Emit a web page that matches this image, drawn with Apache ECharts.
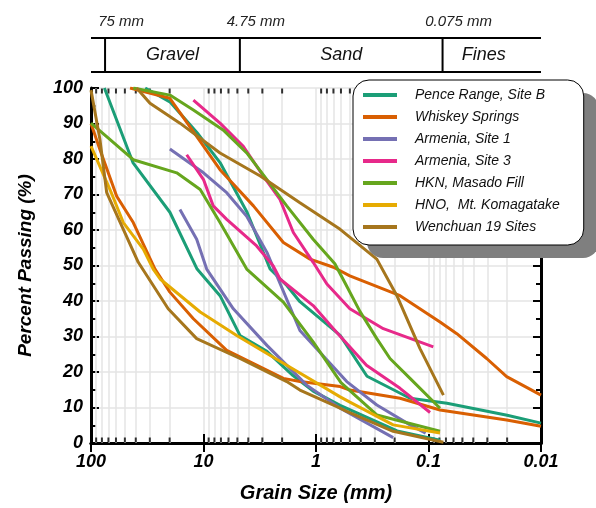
<!DOCTYPE html>
<html><head><meta charset="utf-8">
<script src="https://cdn.jsdelivr.net/npm/echarts@6/dist/echarts.min.js"></script>
<style>html,body{margin:0;padding:0;background:#fff}#c{width:596px;height:508px}</style>
</head><body><div id="c"></div>
<script>
// ---- data: [grain size (mm), percent passing] ----
const seriesNames = ['Pence Range, Site B','Whiskey Springs','Armenia, Site 1','Armenia, Site 3','HKN, Masado Fill','HNO,  Mt. Komagatake','Wenchuan 19 Sites'];
const seriesColors = ['#1b9e77','#d95f02','#7570b3','#e7298a','#66a61e','#e6ab02','#a6761d'];

const penceLower = [[76,100],[42.4,79.0],[19.9,65.0],[11.4,49.0],[7.13,41.5],[4.74,30.3],[2.73,25.8],[1.60,19.0],[1.06,14.6],[0.61,10.6],[0.19,3.4],[0.079,0.8]];
const penceUpper = [[33,100],[19.9,96.1],[11.4,87.4],[7.13,79.0],[4.1,65.0],[2.56,49.0],[1.81,44.3],[1.39,39.8],[0.61,30.3],[0.352,18.8],[0.146,12.6],[0.0685,11.2],[0.02,7.8],[0.01,5.6]];
const whiskeyLower = [[100,90],[83.2,82.6],[59.1,69.5],[42.1,62.1],[27.0,49.0],[19.9,42.5],[12.3,35.0],[6.22,26.1],[1.95,18.2],[1.39,17.3],[0.61,15.9],[0.5,14.9],[0.179,12.6],[0.079,9.3],[0.0202,6.5],[0.01,4.7]];
const whiskeyUpper = [[45,100],[19.9,97.1],[11.5,86.4],[7.13,77.0],[3.6,66.8],[1.95,56.5],[1.13,51.8],[0.7,49.5],[0.5,47.1],[0.179,41.5],[0.079,34.1],[0.056,30.8],[0.0304,23.8],[0.0202,18.7],[0.01,13.5]];
const armenia1Upper = [[19.9,82.8],[10.0,76.1],[6.22,70.5],[4.13,63.9],[2.73,53.7],[1.39,31.7],[0.533,17.3],[0.288,10.7],[0.146,5.1],[0.106,2.8]];
const armenia1Lower = [[16.2,65.8],[11.5,57.4],[9.37,49.0],[5.43,37.8],[2.73,27.5],[1.21,16.3],[0.61,9.8],[0.206,1.5]];
const armenia3Upper = [[12.3,96.6],[7.13,90.1],[4.43,83.6],[2.94,75.2],[2.09,68.6],[1.59,59.3],[1.06,50.9],[0.80,44.8],[0.5,37.8],[0.252,32.2],[0.0906,27.1]];
const armenia3Lower = [[14.1,81.2],[10.0,74.2],[8.2,66.8],[6.22,63.0],[3.37,55.5],[2.4,49.9],[2.09,46.2],[1.06,38.7],[0.70,32.2],[0.356,21.9],[0.179,15.4],[0.0969,8.6]];
const hknUpper = [[42.1,100],[19.9,98.0],[12.3,93.8],[6.7,88.2],[4.13,81.7],[2.73,74.2],[1.82,66.8],[1.06,57.4],[0.68,50.5],[0.55,45.0],[0.406,37.0],[0.288,29.4],[0.22,23.8],[0.146,18.2],[0.079,9.8]];
const hknLower = [[100,90.1],[42.1,79.8],[17.3,76.1],[10.7,71.4],[7.13,62.1],[4.13,49.0],[1.95,39.7],[1.06,28.5],[0.6,17.0],[0.288,7.9],[0.079,3.3]];
const hnoCurve = [[100,83.6],[67.8,71.4],[51.6,62.1],[34.3,54.6],[28,49.0],[24.3,46.2],[10.7,36.9],[5.07,30.3],[1.82,21.9],[0.61,13.0],[0.5,11.5],[0.206,5.1],[0.079,2.8]];
const wenchuanUpper = [[39.3,100],[29.9,95.7],[16.2,90.1],[7.13,81.7],[3.13,75.2],[1.39,67.7],[0.61,60.2],[0.288,51.8],[0.191,41.5],[0.119,26.6],[0.0737,13.5]];
const wenchuanLower = [[100,99.4],[83.2,85.4],[72.5,70.5],[51.6,60.2],[38,50.9],[20.6,37.8],[11.5,29.4],[4.74,23.8],[1.82,17.3],[1.39,14.9],[0.61,9.8],[0.533,8.9],[0.206,3.3],[0.0737,0.2]];

const curves = [
  [0, penceLower],[0, penceUpper],
  [1, whiskeyLower],[1, whiskeyUpper],
  [2, armenia1Upper],[2, armenia1Lower],
  [3, armenia3Upper],[3, armenia3Lower],
  [4, hknUpper],[4, hknLower],
  [5, hnoCurve],
  [6, wenchuanUpper],[6, wenchuanLower]
];

// axis decorations
const minorSizes = [0.02,0.03,0.04,0.05,0.06,0.07,0.08,0.09,0.2,0.3,0.4,0.5,0.6,0.7,0.8,0.9,2,3,4,5,6,7,8,9,20,30,40,50,60,70,80,90];
const boundarySizes = [75, 4.75, 0.075];
const boundaryLabels = ['75 mm','4.75 mm','0.075 mm'];
const zoneLabels = ['Gravel','Sand','Fines'];

const FONT = 'Liberation Sans, Arial, sans-serif';
const chart = echarts.init(document.getElementById('c'), null, {renderer:'canvas'});

const lineSeries = curves.map(([k, d]) => ({
  name: seriesNames[k], type:'line', data:d, showSymbol:false, symbol:'none',
  lineStyle:{color:seriesColors[k], width:3}, itemStyle:{color:seriesColors[k]},
  z:3, clip:true, animation:false
}));

const axisCommon = {
  type:'log', logBase:10, min:0.01, max:100, inverse:true,
  axisLine:{show:true, lineStyle:{color:'#000', width:3}},
  axisTick:{show:true, inside:true, length:9, lineStyle:{color:'#000', width:2}},
  splitLine:{show:false}
};

const option = {
  animation:false,
  backgroundColor:'#fff',
  grid:{left:91, right:55, top:88, bottom:63, containLabel:false},
  legend:{
    orient:'vertical', left:353, top:80, data:seriesNames, z:10,
    icon:'rect', itemWidth:34, itemHeight:4, itemGap:6,
    padding:[7,24,10,10],
    backgroundColor:'#fff', borderColor:'#000', borderWidth:1, borderRadius:16,
    textStyle:{fontFamily:FONT, fontStyle:'italic', fontSize:14, color:'#111', lineHeight:16, padding:[0,0,0,13]},
    selectedMode:false
  },
  xAxis:[
    Object.assign({}, axisCommon, {
      position:'bottom',
      name:'Grain Size (mm)', nameLocation:'middle', nameGap:40,
      nameTextStyle:{fontFamily:FONT, fontWeight:'bold', fontStyle:'italic', fontSize:20, color:'#000'},
      splitLine:{show:true, lineStyle:{color:'#e4e4e4', width:1.5}},
      axisLabel:{fontFamily:FONT, fontWeight:'bold', fontStyle:'italic', fontSize:18, color:'#000', margin:10,
        formatter: v => String(+Number(v).toPrecision(2))}
    }),
    Object.assign({}, axisCommon, {position:'top', axisLabel:{show:false}})
  ],
  yAxis:[
    {type:'value', min:0, max:100, interval:10, position:'left',
     name:'Percent Passing (%)', nameLocation:'middle', nameGap:56,
     nameTextStyle:{fontFamily:FONT, fontWeight:'bold', fontStyle:'italic', fontSize:19, color:'#000'},
     axisLine:{show:true, lineStyle:{color:'#000', width:3}},
     axisTick:{show:true, inside:true, length:8, lineStyle:{color:'#000', width:2}},
     minorTick:{show:true, splitNumber:2, length:5, lineStyle:{color:'#000', width:2}},
     splitLine:{show:true, lineStyle:{color:'#e4e4e4', width:1.5}},
     axisLabel:{fontFamily:FONT, fontWeight:'bold', fontStyle:'italic', fontSize:18, color:'#000', margin:8}},
    {type:'value', min:0, max:100, interval:10, position:'right',
     axisLine:{show:true, lineStyle:{color:'#000', width:3}},
     axisTick:{show:true, inside:true, length:8, lineStyle:{color:'#000', width:2}},
     minorTick:{show:true, splitNumber:2, length:5, lineStyle:{color:'#000', width:2}},
     splitLine:{show:false}, axisLabel:{show:false}}
  ],
  series: [
    {type:'scatter', name:'_minorBottom', xAxisIndex:0, yAxisIndex:0, silent:true, clip:false, z:2,
     data: minorSizes.map(v => [v, 0]), symbol:'rect', symbolSize:[2,5], symbolOffset:[0,-3],
     itemStyle:{color:'#000'},
     markLine:{silent:true, symbol:'none', label:{show:false}, z:1,
       lineStyle:{color:'#e4e4e4', width:1.5, type:'solid'},
       data: minorSizes.map(v => ({xAxis:v}))}},
    {type:'scatter', name:'_minorTop', xAxisIndex:0, yAxisIndex:0, silent:true, clip:false, z:2,
     data: minorSizes.map(v => [v, 100]), symbol:'rect', symbolSize:[2,5], symbolOffset:[0,3],
     itemStyle:{color:'#000'}}
  ].concat(lineSeries)
};
chart.setOption(option);

// header: soil classification bands placed with the x scale
const yTopLine = 38, yBotLine = 72;
const xL = chart.convertToPixel({xAxisIndex:0}, 100);
const xR = chart.convertToPixel({xAxisIndex:0}, 0.01);
const bx = boundarySizes.map(v => chart.convertToPixel({xAxisIndex:0}, v));
const g = [
  {type:'line', shape:{x1:xL, y1:yTopLine, x2:xR, y2:yTopLine}, style:{stroke:'#000', lineWidth:2}},
  {type:'line', shape:{x1:xL, y1:yBotLine, x2:xR, y2:yBotLine}, style:{stroke:'#000', lineWidth:2}},
  // legend drop shadow
  {type:'rect', z:6, shape:{x:367, y:93, width:232, height:165, r:16}, style:{fill:'#7f7f7f'}}
];
bx.forEach((x, i) => {
  g.push({type:'line', shape:{x1:x, y1:yTopLine, x2:x, y2:yBotLine}, style:{stroke:'#000', lineWidth:2}});
  g.push({type:'text', x:x+16, y:22, style:{text:boundaryLabels[i], fontFamily:FONT, fontStyle:'italic', fontSize:15, fill:'#222', align:'center', verticalAlign:'middle'}});
});
const zoneCenters = [(bx[0]+bx[1])/2, (bx[1]+bx[2])/2, (bx[2]+xR)/2 - 8];
zoneLabels.forEach((t, i) => {
  g.push({type:'text', x:zoneCenters[i], y:55, style:{text:t, fontFamily:FONT, fontStyle:'italic', fontSize:18, fill:'#111', align:'center', verticalAlign:'middle'}});
});
chart.setOption({graphic:g});
</script></body></html>
